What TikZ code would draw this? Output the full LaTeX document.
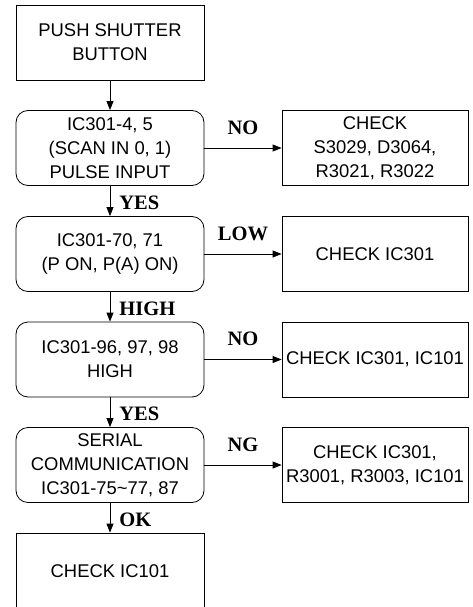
\documentclass[tikz,border=0pt]{standalone}
\usepackage{fontspec}
\setmainfont{Liberation Sans}
\newfontfamily\answerfont{Liberation Serif}
\usetikzlibrary{arrows.meta}

\tikzset{
  flow/.style={line width=0.8pt, -{Triangle[length=9pt,width=7pt]}},
  stepbox/.style={draw, line width=0.8pt, minimum width=188pt, minimum height=75pt,
    align=center, font=\fontsize{18.4}{24}\selectfont, inner sep=0pt},
  testbox/.style={stepbox, rounded corners=12pt},
  checkbox/.style={stepbox, minimum width=186pt},
  hlabel/.style={midway, above=13pt, inner sep=0pt, font=\answerfont\bfseries\fontsize{20.5}{24}\selectfont},
  vlabel/.style={pos=0.78, anchor=base west, inner sep=0pt, xshift=9pt, font=\answerfont\bfseries\fontsize{20.5}{24}\selectfont}
}

\begin{document}
\begin{tikzpicture}[x=1pt, y=-1pt]
				\useasboundingbox (0,0) rectangle (473,607);
				% left column
				\node[stepbox] (push) at (110,42.5) {PUSH SHUTTER\\BUTTON};
				\node[testbox] (scan) at (110,148) {IC301-4, 5\\(SCAN IN 0, 1)\\PULSE INPUT};
				\node[testbox] (pon) at (110,254) {IC301-70, 71\\(P ON, P(A) ON)};
				\node[testbox] (high) at (110,359.5) {IC301-96, 97, 98\\HIGH};
				\node[testbox] (serial) at (110,465) {SERIAL\\COMMUNICATION\\IC301-75\textasciitilde77, 87};
				\node[stepbox, minimum height=76pt] (ic101) at (110,571) {CHECK IC101};
				% right column
				\node[checkbox] (chkscan) at (375,148) {CHECK\\S3029, D3064,\\R3021, R3022};
				\node[checkbox] (chkpon) at (375,254) {CHECK IC301};
				\node[checkbox] (chkhigh) at (375,359.5) {CHECK IC301, IC101};
				\node[checkbox] (chkserial) at (375,465) {CHECK IC301,\\R3001, R3003, IC101};
				% connectors
				\draw[flow] (push) -- (scan);
				\draw[flow] (scan) -- node[vlabel] {YES} (pon);
				\draw[flow] (pon) -- node[vlabel] {HIGH} (high);
				\draw[flow] (high) -- node[vlabel] {YES} (serial);
				\draw[flow] (serial) -- node[vlabel] {OK} (ic101);
				\draw[flow] (scan) -- node[hlabel] {NO} (chkscan);
				\draw[flow] (pon) -- node[hlabel] {LOW} (chkpon);
				\draw[flow] (high) -- node[hlabel] {NO} (chkhigh);
				\draw[flow] (serial) -- node[hlabel] {NG} (chkserial);
\end{tikzpicture}
\end{document}
